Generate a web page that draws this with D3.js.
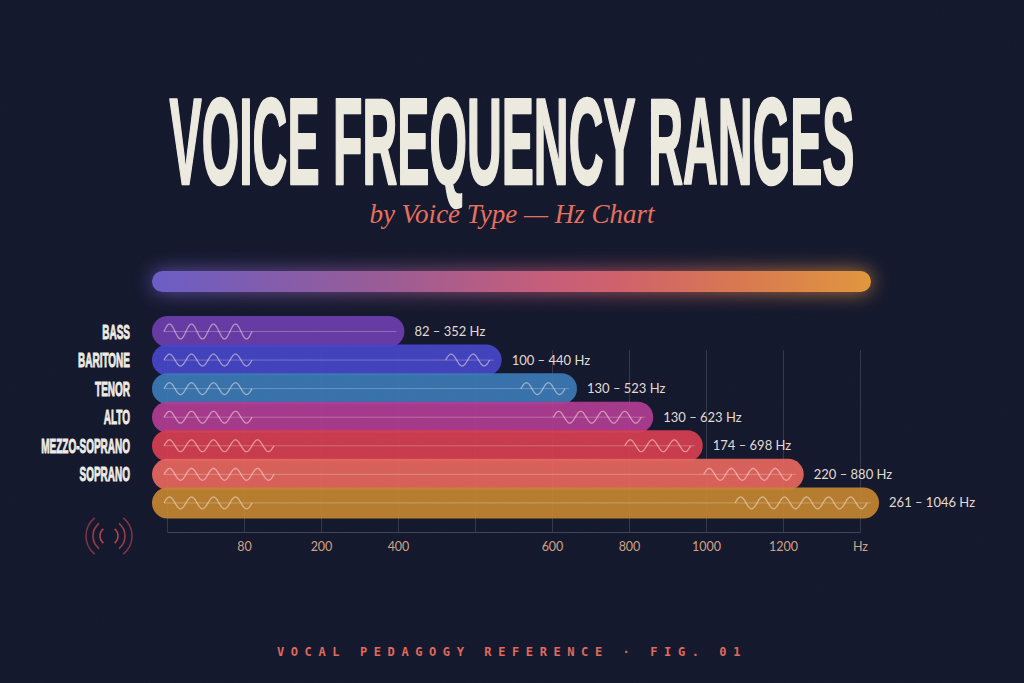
<!DOCTYPE html>
<html>
<head>
<meta charset="utf-8">
<script src="https://cdn.jsdelivr.net/npm/d3@7"></script>
<style>
  html, body { margin: 0; padding: 0; background: #12162b; }
  svg { display: block; }
</style>
</head>
<body>
<svg id="chart" width="1024" height="683"></svg>
<script>
// data
var voiceTypes = ['Bass', 'Baritone', 'Tenor', 'Alto', 'Mezzo-Soprano', 'Soprano', ''];
var lowHz = [82, 100, 130, 130, 174, 220, 261];
var highHz = [352, 440, 523, 623, 698, 880, 1046];
var barColors = ['#6d3cae', '#4444c9', '#3a79b6', '#b23b92', '#d83d4e', '#e9665c', '#c4862e'];
var tickLabels = ['', '80', '200', '400', '', '600', '800', '1000', '1200', 'Hz'];
// decoration: how many wave cycles sit at the left / right of each bar
var waveLeft = [4, 4, 4, 4, 5, 5, 4];
var waveRight = [0, 2, 2, 4, 3, 4, 6];

var W = 1024, H = 683;
var svg = d3.select('#chart');
var defs = svg.append('defs');

// background + grain
svg.append('rect').attr('width', W).attr('height', H).attr('fill', '#12162b');

var grain = defs.append('filter').attr('id', 'grain')
  .attr('x', 0).attr('y', 0).attr('width', '100%').attr('height', '100%');
grain.append('feTurbulence').attr('type', 'fractalNoise')
  .attr('baseFrequency', 0.85).attr('numOctaves', 2).attr('seed', 7);
grain.append('feColorMatrix').attr('type', 'matrix')
  .attr('values', '0.33 0.33 0.33 0 0  0.33 0.33 0.33 0 0  0.4 0.4 0.45 0 0  0 0 0 0 1');

var glow = defs.append('filter').attr('id', 'glow')
  .attr('x', '-20%').attr('y', '-300%').attr('width', '140%').attr('height', '700%');
glow.append('feGaussianBlur').attr('stdDeviation', 10);

var grad = defs.append('linearGradient').attr('id', 'spectrum')
  .attr('x1', '0%').attr('x2', '100%').attr('y1', 0).attr('y2', 0);
[['0%', '#6a5cc6'], ['30%', '#965a98'], ['55%', '#c75c78'], ['65%', '#d1606a'],
 ['82%', '#d9784e'], ['100%', '#e2963c']].forEach(function(s) {
  grad.append('stop').attr('offset', s[0]).attr('stop-color', s[1]);
});

// title
var title = svg.append('text')
  .attr('x', 0).attr('y', 0)
  .attr('text-anchor', 'middle')
  .attr('font-family', 'Liberation Sans, Arial, sans-serif')
  .attr('font-weight', 700)
  .attr('font-size', 122)
  .attr('fill', '#eeebe0')
  .attr('stroke', '#eeebe0')
  .attr('stroke-width', 2.5)
  .attr('stroke-linejoin', 'round')
  .text('VOICE FREQUENCY RANGES');
var tw = title.node().getBBox().width;
title.attr('transform', 'translate(512,184) scale(' + (685 / tw) + ',1)');

svg.append('text')
  .attr('x', 512).attr('y', 223)
  .attr('text-anchor', 'middle')
  .attr('font-family', 'Liberation Serif, DejaVu Serif, serif')
  .attr('font-style', 'italic')
  .attr('font-size', 27)
  .attr('fill', '#e96f5b')
  .text('by Voice Type \u2014 Hz Chart');

// spectrum bar with glow
svg.append('rect')
  .attr('x', 152).attr('y', 271).attr('width', 719).attr('height', 21).attr('rx', 10.5)
  .attr('fill', 'url(#spectrum)').attr('opacity', 0.8).attr('filter', 'url(#glow)');
svg.append('rect')
  .attr('x', 152).attr('y', 271).attr('width', 719).attr('height', 21).attr('rx', 10.5)
  .attr('fill', 'url(#spectrum)');

// scales
var barLeft = 152, barH = 31;
var x = d3.scaleLog().domain([200, 1100]).range([158, 901]);
var y = d3.scaleBand().domain(d3.range(voiceTypes.length)).range([316, 516]).padding(0);
var xAxis = d3.scalePoint().domain(d3.range(tickLabels.length)).range([167, 860]);

// axis + grid
var axisG = svg.append('g')
  .attr('transform', 'translate(0,532)')
  .call(d3.axisBottom(xAxis)
    .tickSize(-182).tickSizeOuter(0).tickPadding(10)
    .tickFormat(function(i) { return tickLabels[i]; }));
axisG.select('.domain').attr('stroke', 'rgba(255,255,255,0.2)');
axisG.selectAll('.tick line').attr('stroke', 'rgba(255,255,255,0.14)');
axisG.selectAll('.tick text')
  .attr('fill', '#d0a383')
  .attr('font-family', 'Lato, Open Sans, sans-serif')
  .attr('font-size', 12.5);

// bars
var bars = svg.append('g').selectAll('g.bar')
  .data(highHz)
  .enter()
  .append('g')
  .attr('class', 'bar');

bars.append('rect')
  .attr('x', barLeft)
  .attr('y', function(d, i) { return y(i); })
  .attr('width', function(d) { return x(d) - barLeft; })
  .attr('height', barH)
  .attr('rx', barH / 2)
  .attr('fill', function(d, i) { return barColors[i]; })
  .attr('fill-opacity', 0.92);

// thin centre line in each bar
bars.append('line')
  .attr('x1', barLeft + 12)
  .attr('x2', function(d) { return x(d) - 8; })
  .attr('y1', function(d, i) { return y(i) + barH / 2; })
  .attr('y2', function(d, i) { return y(i) + barH / 2; })
  .attr('stroke', 'rgba(255,245,235,0.28)')
  .attr('stroke-width', 1);

var wl = 22;
function wave(x0, cycles, cy, amp) {
  var pts = d3.range(0, cycles * wl + 0.5, 1).map(function(t) {
    return [x0 + t, cy - amp * Math.sin(2 * Math.PI * t / wl)];
  });
  return d3.line().curve(d3.curveBasis)(pts);
}

bars.append('path')
  .attr('d', function(d, i) {
    return wave(barLeft + 12, waveLeft[i], y(i) + barH / 2, i === 0 ? 7.5 : 6);
  })
  .attr('fill', 'none')
  .attr('stroke', 'rgba(255,240,230,0.5)')
  .attr('stroke-width', 1.3);

bars.filter(function(d, i) { return waveRight[i] > 0; })
  .append('path')
  .attr('d', function(d) {
    var i = highHz.indexOf(d);
    var end = x(d) - 12;
    return wave(end - waveRight[i] * wl, waveRight[i], y(i) + barH / 2, 6);
  })
  .attr('fill', 'none')
  .attr('stroke', 'rgba(255,240,230,0.5)')
  .attr('stroke-width', 1.3);

// value labels
bars.append('text')
  .attr('x', function(d) { return x(d) + 10; })
  .attr('y', function(d, i) { return y(i) + barH / 2 + 4.5; })
  .attr('font-family', 'Lato, Open Sans, sans-serif')
  .attr('font-size', 13)
  .attr('fill', '#e2ddd4')
  .text(function(d, i) { return lowHz[i] + ' \u2013 ' + d + ' Hz'; });

// category labels, condensed
svg.append('g').selectAll('text')
  .data(voiceTypes)
  .enter()
  .append('text')
  .attr('transform', function(d, i) {
    return 'translate(130,' + (y(i) + barH / 2 + 7) + ') scale(0.5,1)';
  })
  .attr('text-anchor', 'end')
  .attr('font-family', 'Liberation Sans, Arial, sans-serif')
  .attr('font-weight', 700)
  .attr('font-size', 20)
  .attr('fill', '#f0ede4')
  .attr('stroke', '#f0ede4')
  .attr('stroke-width', 0.9)
  .text(function(d) { return d.toUpperCase(); });

// sound icon
var icon = svg.append('g').attr('transform', 'translate(109,536)');
[9, 16, 23].forEach(function(r, k) {
  [[-0.9, 0.9], [Math.PI - 0.9, Math.PI + 0.9]].forEach(function(a) {
    var p = d3.path();
    p.arc(0, 0, r, a[0], a[1]);
    icon.append('path')
      .attr('d', p.toString())
      .attr('fill', 'none')
      .attr('stroke', '#c54556')
      .attr('stroke-opacity', 0.9 - k * 0.15)
      .attr('stroke-width', 1.6);
  });
});

// footer
svg.append('text')
  .attr('x', 512).attr('y', 656)
  .attr('text-anchor', 'middle')
  .attr('font-family', 'DejaVu Sans Mono, monospace')
  .attr('font-weight', 700)
  .attr('font-size', 12)
  .attr('letter-spacing', 6.6)
  .attr('fill', '#e0685a')
  .text('VOCAL PEDAGOGY REFERENCE \u00b7 FIG. 01');

// grain on top
svg.append('rect').attr('width', W).attr('height', H)
  .attr('filter', 'url(#grain)').attr('opacity', 0.02)
  .attr('pointer-events', 'none');
</script>
</body>
</html>
